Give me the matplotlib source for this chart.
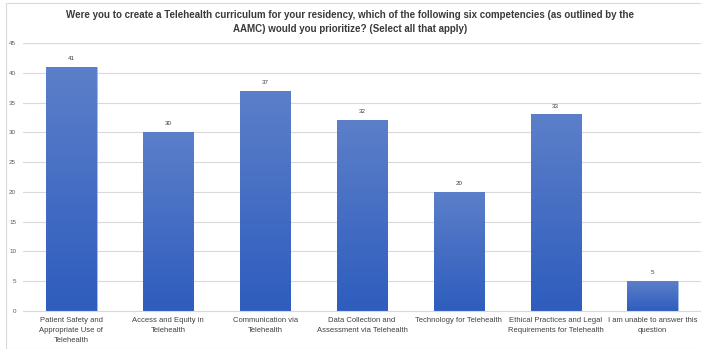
import numpy as np
import matplotlib
matplotlib.use('Agg')
import matplotlib.pyplot as plt
from matplotlib.patches import Rectangle

categories = ['Patient Safety and\nAppropriate Use of\nTelehealth',
              'Access and Equity in\nTelehealth',
              'Communication via\nTelehealth',
              'Data Collection and\nAssessment via Telehealth',
              'Technology for Telehealth',
              'Ethical Practices and Legal\nRequirements for Telehealth',
              'I am unable to answer this\nquestion']
counts = [41, 30, 37, 32, 20, 33, 5]
yticks = [0, 5, 10, 15, 20, 25, 30, 35, 40, 45]

title = ('Were you to create a Telehealth curriculum for your residency, which of the following six competencies (as outlined by the\n'
         'AAMC) would you prioritize? (Select all that apply)')

fam = ['Liberation Sans Narrow', 'Liberation Sans', 'DejaVu Sans']
plt.rcParams['font.family'] = fam

fig = plt.figure(figsize=(7.01, 3.49), dpi=100)
ax = fig.add_axes([23/701, 1-311/349, 678/701, 268/349])

x = np.arange(len(counts))
bars = ax.bar(x, counts, width=0.52, color='#4470C4', edgecolor='#A9BDE6', linewidth=0.5, zorder=2)

# vertical gradient on each bar
grad = np.linspace(0, 1, 256).reshape(-1, 1)
top = np.array([92, 127, 201]) / 255
bot = np.array([46, 93, 190]) / 255
img = (bot[None, None, :] * (1 - grad[:, :, None]) + top[None, None, :] * grad[:, :, None])
for b in bars:
    x0, w, h = b.get_x(), b.get_width(), b.get_height()
    im = ax.imshow(img, extent=[x0, x0 + w, 0, h], origin='lower', aspect='auto', zorder=2.5)
    im.set_clip_path(b)
    ax.text(x0 + w/2, h + 1.0, str(h), ha='center', va='bottom', fontsize=4.5, color='#404040', zorder=3)

ax.set_xlim(-0.5, len(counts) - 0.5)
ax.set_ylim(0, 45)
ax.set_yticks(yticks)
ax.set_yticklabels([str(t) for t in yticks], fontsize=4.5, color='#595959')
ax.set_xticks(x)
ax.set_xticklabels(categories, fontsize=5.5, color='#404040', linespacing=1.6)
ax.tick_params(axis='both', length=0)
ax.tick_params(axis='y', pad=5)
ax.tick_params(axis='x', pad=4)
ax.grid(axis='y', color='#D9D9D9', linewidth=0.8, zorder=0)
for s in ['top', 'right', 'left']:
    ax.spines[s].set_visible(False)
ax.spines['bottom'].set_color('#D9D9D9')
ax.spines['bottom'].set_linewidth(0.8)

fig.text(350/701, 1-22/349, title, ha='center', va='center', fontsize=7, fontweight='bold',
         color='#3A3A3A', linespacing=1.6)

fig.patches.append(Rectangle((6/701, 0), 1.0, 1 - 3/349, transform=fig.transFigure,
                             fill=False, edgecolor='#D9D9D9', linewidth=0.8))

fig.savefig('out.png', dpi=100)
